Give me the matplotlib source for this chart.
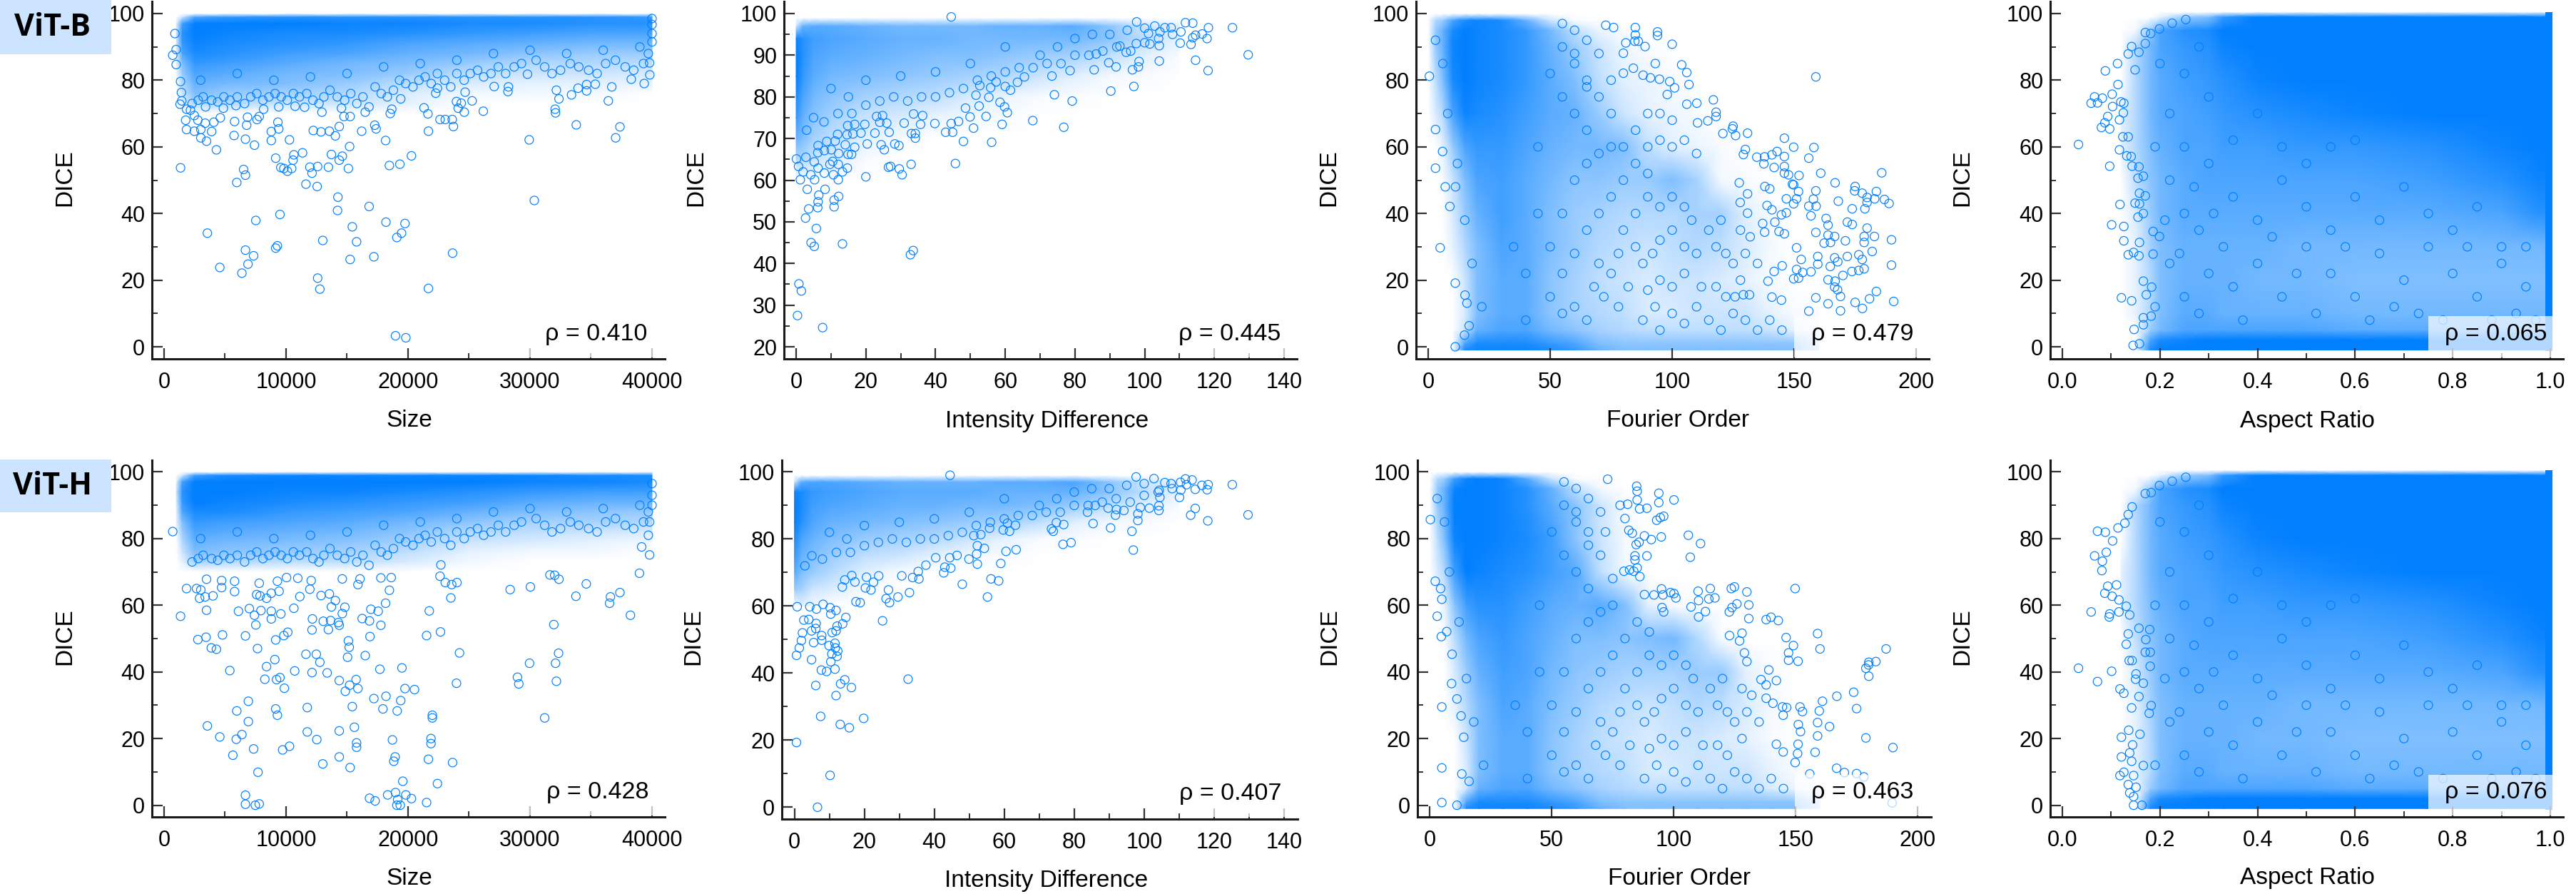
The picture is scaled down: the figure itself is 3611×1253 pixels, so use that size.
import matplotlib
matplotlib.use("Agg")
import matplotlib.pyplot as plt
from matplotlib.colors import LinearSegmentedColormap
from matplotlib.patches import Rectangle
from matplotlib.ticker import MultipleLocator, NullLocator

W, H = 3612, 1253
BLUE = "#007FFF"

labels_x = ["Size", "Intensity Difference", "Fourier Order", "Aspect Ratio"]
rho_b = ["ρ = 0.410", "ρ = 0.445", "ρ = 0.479", "ρ = 0.065"]
rho_h = ["ρ = 0.428", "ρ = 0.407", "ρ = 0.463", "ρ = 0.076"]

# ---- readable individual points (x, DICE) ----
b_size = [(1350,53.7),(3550,34.1),(4570,23.8),(6380,22.1),(6670,29),(6880,24.8),(7340,27.3),(7520,37.9),(9150,29.6),(9290,30.3),(9500,39.7),(12590,20.6),(12770,17.3),(13010,31.9),(14220,40.9),(14250,44.9),(15250,26.2),(15430,36),(15780,31.5),(16810,42.1),(17200,27),(18190,37.4),(19080,32.8),(19470,34.1),(19750,37),(18970,3.3),(19820,2.7),(21670,17.5),(23650,28.1),(30350,43.9),(29930,62.1),(33790,66.6),(37020,62.7),(37370,66),(5960,49.3),(6520,53.2),(6670,51.5),(9150,56.6),(9570,53.8),(9820,53.5),(10110,52.7),(10460,53.5),(10570,56),(10640,57.6),(11350,58.2),(11630,48.8),(11950,53.9),(12130,52.1),(12590,54.1),(12550,48.1),(13470,53.9),(13720,57.7),(14360,56),(14610,57.2),(15110,53.5),(15210,60.1),(18470,54.4),(19330,54.8),(20280,57.3),(4290,59.1),(7410,60.5),(5740,63.4),(6670,62.3),(3480,61.7),(8790,61.9),(8790,64.6),(9400,65.4),(10280,62.1),(12230,64.9),(12870,64.5),(13550,64.7),(14040,63.3),(14360,66.1),(16200,64.7),(17270,66.5),(17380,65.4),(18160,61.9),(21670,64.7),(22620,68.2),(23050,68.2),(23620,68.2),(23720,66.1),(21310,71.7),(21630,69.9),(24610,70.4),(26170,70.7),(25250,73.8),(23970,73.6),(24360,73.1),(24110,71.6),(32060,71.3),(32090,70.2),(32370,74.4),(33400,75.6),(36420,73.8),(24680,76.4),(22270,76.1),(22410,77.6),(27060,78.1),(28190,76.6),(28230,78),(32160,77),(33940,77.6),(34640,76.8),(34640,78.7),(35350,78.8),(36700,78),(39360,79),(38300,80.3),(39820,81.6),(29790,81.8),(19400,74.4),(18670,71.3),(18540,70),(16490,70.4),(15250,69.1),(14750,69.1),(14540,71.6),(12940,70.4),(11520,71.9),(10740,72.2),(9400,72),(9330,67.4),(6840,68.9),(6770,66.5),(4610,68.7),(5780,67.6),(4080,67.4),(3900,64.6),(3370,67.1),(3010,65.2),(3010,62.7),(2480,64.7),(1840,65.2),(1770,68),(2770,68),(2480,69.4),(7800,69.1),(7620,68.2),(710,87.5),(890,94),(990,84.7),(990,89.2),(1350,79.6),(1420,76.3),(1310,72.8),(1450,73.8),(1840,71.3),(2160,71),(3400,72),(4860,71.6),(5890,72.4),(8160,71.3),(40000,96.7),(40000,94),(40000,91.5),(40000,98.5),(39800,85.2)]

b_int = [(.4,27.5),(7.6,24.6),(.8,35.1),(1.5,33.4),(4.3,45),(5.2,44.1),(13.3,44.7),(5.8,48.4),(2.7,50.9),(3.6,53.1),(6.2,53.4),(6.3,54.8),(6.5,56.4),(8.3,57.8),(3.2,57.8),(10.9,53.6),(10.9,55.2),(12.2,56.1),(32.8,42.1),(33.6,43.1),(20,60.8),(30.4,61.3),(29.6,62.7),(33,63.8),(26.5,63.1),(27.1,63.3),(45.7,64),(1.2,60.1),(5.3,60.1),(4.2,61.3),(8.1,61.7),(10.7,61.3),(12.1,60.1),(13.3,62),(14.7,62.9),(12.1,63.8),(9.7,63.8),(10.5,64.5),(6.3,62.9),(5.2,64.4),(2,62),(.7,63.3),(.1,65.1),(2.8,65.5),(6.2,66.6),(12.2,66.4),(14.9,66.2),(16.8,67.9),(15.9,66.2),(8.1,67.1),(10.1,67.3),(20.4,68.7),(24.4,68.5),(25.3,67.3),(28.3,68.7),(29.5,68.3),(14.1,68.5),(6.3,68.3),(8.8,69.3),(11.2,69.4),(34.2,70.1),(33.1,71.2),(34.2,71.2),(26.7,71.5),(22.6,71.3),(18.6,71.3),(16.3,71.1),(14.6,70.9),(11.9,71),(48,69.3),(56.1,69.1),(50.9,72.5),(42.9,71.5),(44.9,71.5),(39.8,73.6),(44.5,73.6),(46.6,74.1),(49.9,75.2),(54.5,75.3),(59.1,73.4),(67.9,74.3),(76.8,72.7),(35.7,73.4),(31,73.7),(26,73.7),(24,73.9),(19.7,73.4),(16.8,73.4),(14.8,73.1),(36.3,75.5),(33.7,75.9),(24.8,75.5),(23.1,75.3),(60.6,76.2),(59.8,77.6),(58.5,78.7),(52.5,77.8),(48.6,77.3),(74.1,80.5),(79.2,79),(90.3,81.4),(96.9,82.5),(118.2,86.3),(129.7,90.1),(125.2,96.6),(118.3,96.6),(117.9,94),(114.6,88.8),(113.3,92.6),(113.8,94.2),(114.6,94.8),(116.5,95.1),(110.2,92.9),(104.2,92.3),(104.2,88.6),(101.5,92.7),(98.4,88.5),(98.2,87.2),(96.5,86.5),(91.8,87.2),(89.7,88.2),(85.5,86.5),(86.1,90.3),(73.4,85),(78.6,86.3),(65.5,84.8),(63.5,83.5),(61.5,81.6),(60,82.5),(55.8,82.2),(52.7,82.7),(55.3,79.9),(51.6,80.4),(57.4,83.6),(44.5,99.2),(111.7,97.8),(113.8,97.7),(107.6,96.6),(105.8,96.6),(102.9,97),(97.7,98),(101.1,95.2),(104.4,95.6),(110.4,95.6),(94.7,90.7),(92.9,92.2),(97.6,92.8)]

b_four = [(158.9,81),(72.8,96.5),(76,95.8),(84.9,95.8),(84.9,93.6),(84.7,91.7),(86.1,91.7),(81,91.2),(88.9,90.1),(94,94.5),(94,93.4),(100,90.8),(93.1,85),(103.9,84.6),(106,82.3),(106.9,78.7),(101,77.7),(99,79.6),(94.8,80.3),(91.1,80.7),(88.1,81.5),(84.1,83.6),(80,82.1),(80,88.1),(98,75.7),(110.1,73.1),(106,72.8),(116.9,74.1),(118,70.4),(118,69.1),(114.6,67.8),(110.4,67.2),(125,66.2),(124.7,65.4),(126,63.4),(120.8,64),(130.9,64.1),(146,62.6),(149.8,59.9),(158.1,59.8),(156,56.6),(130,59.2),(129.2,57.7),(134.7,56.9),(137.9,57),(143,58.6),(140.9,57.6),(146,57.1),(137.6,54.9),(141.8,53.8),(146,54.1),(146,52.1),(147.7,51.6),(152,51.4),(160.9,52.1),(185.9,52.2),(166.8,49.2),(149.3,48.8),(149.8,48.6),(151.8,46.6),(158.9,46.8),(175,48.1),(174.8,46.8),(177.9,46.1),(183.7,46.6),(179.9,44.8),(179.9,43.3),(179,41.4),(183,44.4),(187,44.2),(188.9,43),(168.1,43.7),(157.9,44.3),(156,42.2),(159,42.2),(173.8,41.4),(151,44.4),(149.8,42.9),(146.8,44.4),(146.8,40.2),(144.8,39.6),(140,47.4),(138,48.1),(130.9,45.9),(127.5,49.2),(127.9,43.3),(130.9,40.1),(138.9,42.4),(140.9,41.1),(142.1,37.4),(137.1,37),(137.9,34.4),(143.8,34.6),(146,33.9),(156.9,39.3),(163.1,38.5),(163.9,36.5),(171.8,37.4),(173.8,36.7),(179.9,35.6),(158.9,34.3),(163.9,33.5),(166.6,33.1),(162.3,31.1),(164.9,31.3),(171,31.8),(178.7,33.1),(178.7,31.3),(182.9,33.1),(189.9,32.1),(151,29.7),(182,28.6),(159.7,27.1),(152.9,26.2),(166.6,26.7),(167.9,25.5),(171.8,27.1),(176.5,27.6),(177.9,26.2),(159.7,24.8),(164.8,24.1),(189.9,24.5),(178.7,23.4),(176.5,22.9),(173.7,22.6),(170,21.4),(151,23.2),(153.5,22.3),(156.9,22.5),(151.8,20.6),(149.8,20.4),(163.9,20.1),(166.8,19.7),(166.6,17.9),(167.8,17.1),(169,15.1),(158.9,14.7),(163.9,12.9),(175,13.3),(180.9,14.4),(183.7,16.6),(190.8,13.6),(178,11.5),(169,10.8),(156,10.7),(139.3,19.7),(141.8,22.6),(145.1,24.3),(140.9,14.9),(144.8,14),(131.7,15.6),(129.2,15.6),(125.8,15),(.5,81.2),(3,65.2),(3,53.6),(5.9,58.6),(7,48),(11.2,48),(8.9,42.1),(4.9,29.7),(11.1,19.1),(15.1,15.5),(15.9,13.1),(14.9,3.5),(11.1,0),(16.8,6.3)]

b_asp = [(.033,60.7),(.097,54.2),(.088,82.8),(.059,73.1),(.066,75),(.072,73.2),(.082,74.6),(.102,75.8),(.103,72.1),(.08,65.8),(.087,67.2),(.093,69.1),(.097,65.4),(.113,85),(.114,78.7),(.117,68.1),(.12,73.5),(.126,73.1),(.125,70.2),(.117,59.1),(.118,42.7),(.101,36.6),(.126,36.1),(.126,31.8),(.158,31.3),(.135,27.6),(.146,28.3),(.157,27.3),(.121,14.7),(.142,13.8),(.147,5.2),(.145,.4),(.158,.9),(.166,6.6),(.166,8.7),(.182,9.2),(.172,15.6),(.166,19.7),(.183,17.9),(.186,27.8),(.186,34.6),(.199,33.1),(.155,38.9),(.166,40),(.149,43.1),(.158,42.9),(.158,46.1),(.17,45.3),(.155,50.6),(.166,51.2),(.143,54.2),(.157,54),(.132,57.3),(.141,57.1),(.124,63),(.135,63),(.142,90.1),(.135,87.9),(.17,94.3),(.181,94),(.199,95.4),(.225,97.1),(.253,98.2),(.149,83.1),(.157,88.4),(.17,91)]

h_size = [(6670,.3),(6670,3),(7480,0),(7800,.4),(7700,9.9),(16840,2.1),(17300,1.3),(18330,3.1),(18970,3.8),(19080,0),(19360,0),(19150,1.7),(19820,3.1),(20280,2),(21520,.8),(19570,7.2),(22410,6.5),(13010,12.4),(15250,11.3),(14360,14.5),(18830,13.2),(18940,14.5),(21670,13.8),(23650,12.8),(5640,15),(7340,16.9),(9720,16.6),(10280,17.7),(5920,19.8),(6380,21.2),(4570,20.5),(3550,23.8),(6910,25.1),(5960,28.3),(6910,31.2),(9150,28.9),(9290,27),(11740,29.3),(11740,22),(12520,19.7),(14360,22.3),(15600,23.4),(15780,18.7),(15780,17.4),(18720,19.6),(21880,20),(21880,18.5),(21990,27),(21990,26.2),(15430,29.6),(17940,28.9),(19110,28.3),(17200,32),(18190,32.7),(19400,31.4),(19750,35),(20530,34.7),(14860,34.2),(15210,36),(15890,35),(15740,37.7),(14360,37.4),(13370,39.7),(12130,39.8),(10710,40.3),(9860,35.1),(9500,38.3),(9220,37.7),(8260,37.8),(8400,41.6),(9080,43.7),(5390,40.4),(7660,47),(3870,47.2),(4290,46.8),(2770,49.7),(3440,50.4),(4790,51.1),(6670,50.8),(9150,49.6),(9820,50.9),(10140,51.9),(11630,45.3),(12480,45.3),(12770,42.9),(15040,44.4),(16490,44.9),(15110,49.3),(15180,47.4),(16880,50.6),(17690,40.8),(19500,41.2),(23970,36.6),(24220,45.7),(21520,50.9),(22660,52),(21740,58.3),(28970,38.4),(29080,36.4),(29960,42.6),(31200,26.2),(32090,42.6),(32160,37.2),(32340,45.6),(31950,54.2),(38230,57),(36520,60.6),(36590,62.5),(37370,63.8),(33760,62.7),(34610,66.4),(38970,69.6),(32370,67.8),(32020,69),(31630,69.1),(30030,65.5),(28370,64.7),(23510,62.2),(24010,66.8),(23580,66.2),(23050,66.8),(22620,68.7),(22690,72.1),(1350,56.7),(3480,58.5),(6100,58.2),(6990,59),(7410,57),(7940,58.4),(7520,54.1),(8790,58.2),(8790,55.9),(9570,57.4),(10640,59.1),(12160,55.9),(12130,52.6),(13050,55.2),(13650,55.4),(13470,52.7),(14360,54),(14290,54.8),(13720,59.5),(14820,59.4),(14610,57.5),(16240,56),(16840,55.3),(17770,54),(16950,58.8),(17550,58.2),(18160,60.6),(14040,61.4),(13550,63.4),(12870,62.9),(11130,62.6),(9430,64.2),(8790,63.6),(8400,62.1),(7870,62.8),(7590,63.2),(5780,64.1),(4720,65.3),(4010,62.8),(3370,62.5),(2910,62.1),(3010,64.6),(1840,65),(2660,65),(710,82.1),(11950,64.8),(18470,64.5),(5780,67.2),(4720,67.4),(3480,67.8),(7800,66.6),(9290,67.2),(10040,68.3),(10960,68.1),(12060,67.4),(14610,67.9),(16060,67.9),(15890,66.2),(18620,68.3),(17770,68.2),(40000,96.5),(40000,93),(40000,90),(39800,85),(39700,81),(39800,75.1),(39150,77.5)]

h_int = [(6.6,0),(10.2,9.5),(.6,19.3),(7.5,27.1),(13.1,24.7),(15.7,23.7),(19.8,26.5),(6.1,36.3),(11.9,33.3),(13.2,36.8),(14.4,38),(16.3,35.7),(32.5,38.2),(7.7,40.9),(9.2,40.5),(11.6,41.2),(10.4,43.4),(4.9,44),(.6,45.3),(12.2,45),(10.7,45.7),(12.4,46.6),(11.7,47.5),(9.9,48.2),(11.6,48.9),(1.4,47.5),(5.5,49.1),(7.8,49.8),(7.8,51.2),(2,49.7),(2.3,52),(4.9,52.6),(6.1,53.3),(10.8,52.1),(11.9,52.6),(12.2,54),(13.8,54.7),(14.7,56.6),(25.2,55.6),(6.2,54.8),(4.1,56),(2.7,55.8),(10.4,57.6),(11.9,58.7),(10.2,59.5),(8.2,60.5),(6.3,59.1),(4.4,59.8),(.8,59.8),(55.2,62.7),(17.6,61.3),(18.8,61),(27.2,61),(26.2,62.2),(29.6,62.7),(26.9,64.8),(32.9,64),(21.9,64.8),(20.3,65.4),(22.6,67.1),(17.3,67.2),(13.7,65.7),(14.4,67.8),(16.4,69.1),(20.6,68.6),(24.1,69),(30.7,69),(33.8,68.5),(35.6,68.1),(35.4,70.3),(42.7,69.9),(44.7,71.3),(48,66.5),(56.2,68.1),(58.4,67.5),(52.3,72.5),(43,71.6),(37.6,72.2),(59,72.7),(40.4,74.4),(44.4,74.4),(46.5,75.1),(49.9,74),(60.5,76.3),(63.4,76.8),(52.1,75.5),(54.3,77.2),(52.3,78),(76.8,78.4),(79.1,78.9),(96.9,76.7),(96.5,82.3),(90.4,83.3),(85.4,84.6),(74,82.3),(73.5,83),(77,84.3),(74.9,84.9),(61.5,82.3),(59.7,82.7),(63.2,84.1),(60.9,84.7),(55.8,83.2),(53.3,81.3),(51.3,81),(98.2,85.5),(98.2,87.5),(118.2,85.4),(113.3,87.1),(114.6,89.1),(129.7,87.2),(125.2,96.2),(118.3,96.2),(118,94.7),(116.5,96),(114.6,94.8),(113.7,97.6),(111.8,97.9),(112.1,96.2),(110.1,92.4),(110.5,94.6),(110.4,96.9),(107.7,96.5),(105.9,96.8),(102.8,98),(104.3,94.5),(104.5,92.4),(104.2,89.9),(104.2,88.5),(101.5,89.2),(98.9,89.4),(97.7,98.5),(94.2,88.5),(92.1,88.8),(89.7,89.2),(91.8,87.1),(83.8,88),(86,90),(44.5,99)]

h_four = [(72.9,97.8),(84.8,95.7),(85,94.2),(85,91.6),(86,88.9),(89,89.1),(93.9,93.6),(93.9,90.8),(100.1,91.6),(95.9,86.7),(94.5,86.3),(93,85.5),(81.1,90.3),(106,81),(111,78.5),(106.8,74.4),(94.9,80.5),(90.8,79.7),(88,80.8),(85.8,78.9),(84.6,78.2),(89,74.8),(84.1,74.8),(84.1,73.6),(85,71.2),(81.9,70.6),(79.6,70.2),(83.6,70.2),(86.1,68.6),(83,81.6),(81.6,82.5),(149.8,65),(124.9,65.5),(123.6,65),(130,64),(130.8,60.1),(125.9,60.4),(123.9,59.3),(122.8,58),(115,65),(110,64.2),(100.1,63.5),(100.9,62.2),(95,64.9),(95.6,63.1),(91.9,63.1),(88,63.2),(98.7,63.8),(110.2,61.4),(107.1,59.5),(114.4,61.9),(116.9,62.2),(113,58.1),(110.2,56.5),(95.2,59.3),(95.9,58),(130.8,56),(137.9,55.7),(139.9,56.4),(142.9,55.4),(159,51.5),(160,46.9),(122.9,50.9),(128,51.6),(127,49.3),(129,45.7),(130,43.1),(139,40.6),(146.1,50.3),(149.1,47.9),(147.1,45.7),(147.1,43.5),(151,43.2),(187.1,46.9),(182.9,43.1),(180,42.9),(179.9,42.1),(178.8,41.1),(180,38.7),(135.8,37.7),(137.9,36.1),(142.1,37.4),(173.8,33.9),(166.9,32.7),(161,31.2),(175,29),(159.7,28.3),(151.8,29.5),(152.8,28.1),(137.9,32.1),(140.7,30.6),(144.6,29.5),(146.3,29.3),(144.9,27),(151.1,24.2),(152,22.1),(159,24.8),(163.9,23.6),(159,20.8),(178.8,20.2),(189.9,17.3),(151,18.3),(150.8,15.5),(158,15.9),(144.9,16),(142.1,18.3),(149.8,12.8),(155.8,9.4),(166.8,11.1),(170,9.8),(175,9.5),(178,8.5),(189.6,.7),(.2,85.7),(3,56.7),(4.7,50.6),(4.9,29.5),(4.9,11.2),(4.9,.8),(8.9,36.5),(11.1,31.9),(12.8,26.8),(9.1,45.3),(13.1,9.4),(16.1,7.2),(13.9,20.4),(11.1,0),(6.9,52.1),(4.9,61.8),(2.2,67.2),(4.4,65)]

h_asp = [(.033,41.1),(.059,58),(.072,37.1),(.101,40.2),(.072,82.2),(.088,81.9),(.066,74.8),(.082,73.2),(.081,70.4),(.09,75.9),(.103,79.3),(.114,83.2),(.128,84.6),(.135,87.2),(.143,89.5),(.17,93.5),(.182,93.8),(.199,95.9),(.225,97.2),(.253,98.4),(.093,65.7),(.087,63.6),(.102,62.7),(.097,57.4),(.096,56.5),(.111,66.1),(.116,58),(.131,59.7),(.138,57.1),(.116,61.6),(.135,51.4),(.131,48.3),(.137,43.4),(.143,43.4),(.118,34.9),(.126,33.6),(.142,29.2),(.157,32.6),(.15,37.8),(.151,39.4),(.136,22.5),(.121,20.4),(.159,21.3),(.144,18.1),(.121,14.5),(.138,15.7),(.142,13.2),(.126,9.9),(.118,8.9),(.146,8.9),(.135,6.2),(.138,3.7),(.146,2.6),(.146,0),(.163,0),(.151,5.4),(.166,11.9),(.178,27.6),(.182,29.9),(.166,36.6),(.18,41.7),(.17,45.9),(.18,45.9),(.171,49.7),(.179,52.7),(.157,53.1)]

# ---- rings estimated along the fringe of each dense cloud ----
size_fringe = [(2300,73),(2800,74),(3200,75),(3900,74),(4400,73.5),(4900,75),(5400,74),(6000,75),(6600,73),(7100,75),(7600,76),(8100,74),(8600,75),(9100,76),(9600,75),(10100,74),(10600,76),(11100,75),(11700,76),(12200,74),(12700,73),(13100,75),(13600,77),(14200,75),(14800,74),(15300,76),(15800,73),(16300,75),(16800,72),(17300,78),(17800,76),(18300,75),(18800,77),(19300,80),(19800,79),(20400,78),(20900,80),(21400,81),(21900,79),(22400,82),(23000,80),(23500,78),(24000,82),(24600,80),(25100,82),(25700,83),(26200,81),(26800,82),(27400,84),(28000,82),(28700,84),(29300,85),(30500,86),(31200,84),(31800,82),(32500,83),(33300,85),(34000,84),(34800,83),(35500,82),(36200,85),(37000,86),(37800,84),(38500,83),(39300,85),(39700,88),(3000,80),(6000,82),(9000,80),(12000,81),(15000,82),(18000,84),(21000,85),(24000,86),(27000,88),(30000,89),(33000,88),(36000,89),(39000,90)]
int_fringe = [(3,72),(5,75),(8,74),(12,76),(16,76),(20,78),(24,79),(28,80),(32,79),(36,80),(40,80),(44,81),(48,82),(52,84),(56,85),(60,86),(64,87),(68,87),(72,88),(76,88),(80,90),(84,90),(88,91),(92,92),(96,91),(100,93),(104,94),(70,90),(75,92),(80,94),(85,95),(90,95),(95,96),(100,96.5),(108,95),(30,85),(40,86),(50,88),(60,92),(20,84),(10,82),(15,80)]
four_mid = [(100,35),(105,30),(110,28),(118,30),(122,28),(125,25),(130,28),(135,25),(128,35),(132,33),(120,38),(115,35),(108,38),(95,32),(92,28),(88,25),(85,30),(80,35),(78,28),(75,22),(70,25),(68,18),(72,15),(78,12),(82,18),(88,8),(93,12),(100,10),(95,5),(105,7),(110,12),(115,8),(120,5),(125,10),(130,8),(135,5),(140,8),(145,5),(118,18),(122,15),(128,20),(112,18),(105,22),(100,18),(95,20),(90,17),(85,40),(90,45),(95,42),(100,45),(105,42),(75,45),(70,40),(65,35),(60,28),(55,22),(60,12),(65,8),(55,10),(50,15),(50,30),(55,40),(60,50),(65,55),(70,58),(80,50),(85,55),(90,52),(75,60),(65,65),(60,70),(55,75),(50,82),(60,85),(65,78),(55,90),(45,60),(45,40),(40,22),(40,8),(35,30),(18,25),(22,12),(15,38),(12,55),(8,70),(6,85),(3,92)]
b_four_upper = [(85,65),(90,70),(95,70),(100,68),(90,60),(95,62),(100,60),(105,62),(110,58),(80,60),(75,70),(70,75),(75,80),(65,80),(70,88),(60,88),(65,92),(60,95),(55,97)]
h_four_upper = [(75,68),(70,75),(72,82),(65,82),(70,88),(60,88),(65,92),(60,95),(55,97),(80,86),(78,90)]
asp_mid = [(.2,85),(.22,70),(.25,60),(.22,50),(.25,40),(.28,35),(.22,25),(.25,15),(.28,10),(.3,22),(.33,30),(.35,18),(.4,25),(.45,15),(.5,30),(.55,22),(.6,15),(.65,28),(.7,20),(.75,30),(.8,22),(.85,15),(.9,25),(.95,18),(.35,45),(.4,38),(.45,50),(.5,42),(.55,35),(.6,45),(.65,38),(.7,48),(.75,40),(.8,35),(.85,42),(.9,30),(.95,30),(.3,55),(.35,62),(.4,70),(.45,60),(.5,55),(.55,60),(.6,62),(.3,75),(.25,82),(.28,90),(.19,60),(.21,38),(.19,12),(.24,28),(.27,48),(.31,40),(.37,8),(.43,33),(.48,22),(.52,10),(.58,30),(.63,8),(.68,12),(.73,10),(.78,8),(.83,30),(.88,8),(.93,10),(.97,8)]

# ---- blue tone of the unresolvably dense clouds: columns x, rows DICE ----
size_cols = [1000,1500,2500,5000,10000,15000,20000,25000,30000,35000,40000]
size_rows = [70,73,76,79,82,85,88,91,94,97,99,100]
b_size_tone = [
 [0,0,0,0,0,0,0,0,0,0,0],
 [0,.1,.3,.3,.2,.2,.1,0,0,0,0],
 [0,.2,.5,.4,.35,.3,.15,.05,.05,.05,0],
 [0,.3,.6,.55,.5,.4,.25,.15,.1,.1,.1],
 [.05,.4,.7,.65,.55,.5,.4,.25,.2,.2,.15],
 [.1,.5,.8,.75,.65,.55,.5,.4,.3,.3,.25],
 [.1,.7,.9,.85,.75,.7,.6,.55,.45,.4,.4],
 [.15,.8,.95,.9,.85,.8,.7,.65,.6,.55,.55],
 [.2,.85,1,.95,.9,.9,.85,.8,.75,.7,.7],
 [.1,.75,1,1,1,.95,.95,.9,.9,.85,.85],
 [0,.2,.7,.8,.85,.85,.85,.85,.85,.85,.8],
 [0,0,0,0,0,0,0,0,0,0,0]]
h_size_tone = [
 [0,0,0,0,0,0,0,0,0,0,0],
 [0,.1,.35,.3,.25,.25,.15,.05,0,0,0],
 [0,.2,.5,.45,.4,.35,.25,.1,.05,.05,0],
 [0,.3,.6,.55,.5,.45,.35,.2,.15,.1,.05],
 [.05,.4,.7,.65,.6,.55,.45,.3,.25,.2,.15],
 [.1,.5,.8,.75,.7,.65,.55,.45,.35,.35,.3],
 [.1,.7,.9,.9,.8,.75,.7,.6,.5,.45,.4],
 [.15,.8,1,.95,.9,.85,.8,.75,.65,.6,.6],
 [.2,.85,1,1,.95,.95,.9,.85,.8,.75,.75],
 [.1,.75,1,1,1,1,1,1,.95,.95,.9],
 [0,.2,.75,.9,.95,.95,.95,.95,.95,.9,.9],
 [0,0,0,0,0,0,0,0,0,0,0]]

int_cols = [0,2,5,10,20,30,40,50,60,70,80,90,100,110]
int_rows = [60,65,70,75,80,85,90,94,97,99]
b_int_tone = [
 [0,0,0,0,0,0,0,0,0,0,0,0,0,0],
 [.3,.3,.2,.15,.03,0,0,0,0,0,0,0,0,0],
 [.6,.5,.35,.25,.1,.03,0,0,0,0,0,0,0,0],
 [.8,.6,.45,.35,.2,.15,.08,.05,.02,0,0,0,0,0],
 [.9,.7,.55,.45,.35,.3,.25,.15,.08,.03,.02,0,0,0],
 [1,.8,.65,.55,.5,.45,.4,.35,.3,.2,.12,.05,.03,0],
 [1,.85,.7,.65,.6,.55,.5,.5,.45,.4,.35,.25,.12,.03],
 [.95,.85,.75,.7,.65,.6,.6,.55,.55,.55,.55,.45,.25,.1],
 [.2,.6,.65,.65,.6,.55,.55,.55,.6,.6,.65,.45,.2,.1],
 [0,0,0,0,0,0,0,0,0,0,0,0,0,0]]
h_int_tone = [
 [0,.1,.05,0,0,0,0,0,0,0,0,0,0,0],
 [.4,.35,.2,.15,.03,0,0,0,0,0,0,0,0,0],
 [.65,.5,.4,.3,.12,.03,0,0,0,0,0,0,0,0],
 [.8,.6,.5,.4,.25,.2,.1,.05,.02,0,0,0,0,0],
 [.9,.7,.6,.5,.4,.35,.3,.2,.1,.03,.02,0,0,0],
 [1,.85,.7,.6,.55,.5,.45,.4,.35,.25,.12,.05,.03,0],
 [1,.9,.75,.7,.65,.6,.6,.55,.55,.5,.4,.25,.12,.03],
 [.95,.9,.8,.75,.7,.65,.65,.65,.6,.6,.6,.45,.25,.1],
 [.2,.65,.7,.7,.65,.6,.6,.6,.65,.65,.7,.45,.2,.1],
 [0,0,0,0,0,0,0,0,0,0,0,0,0,0]]

four_cols = [0,3,6,10,15,20,30,40,50,60,70,80,90,100,110,120,130,140,150,160]
four_rows = [-1,1,5,10,20,30,40,50,60,70,80,90,95,98,100]
b_four_tone = [
 [0,0,0,0,.9,.95,.95,.95,.9,.8,.6,.5,.5,.5,.5,.5,.5,.5,.5,.2],
 [0,0,0,0,.7,.9,.9,.9,.8,.7,.5,.45,.45,.45,.45,.45,.45,.45,.45,.2],
 [0,0,0,0,.2,.6,.7,.7,.55,.45,.35,.3,.25,.25,.25,.25,.25,.2,.1,.05],
 [0,0,0,0,.15,.5,.65,.65,.45,.35,.3,.25,.15,.15,.2,.2,.2,.1,.03,.02],
 [0,0,0,0,.2,.5,.65,.65,.45,.35,.25,.2,.15,.2,.2,.15,.1,.03,0,0],
 [0,0,0,.1,.3,.5,.7,.65,.5,.4,.3,.25,.2,.25,.3,.25,.15,.05,0,0],
 [0,0,0,.15,.4,.6,.75,.65,.5,.4,.35,.3,.3,.3,.35,.35,.12,.03,0,0],
 [0,0,.03,.2,.5,.7,.75,.65,.55,.45,.45,.4,.4,.5,.35,.05,.03,0,0,0],
 [0,0,.1,.4,.7,.8,.8,.7,.6,.55,.55,.5,.25,.12,.08,.03,0,0,0,0],
 [0,.15,.3,.7,.95,.9,.85,.75,.65,.6,.4,.2,.1,.07,.03,0,0,0,0,0],
 [0,.25,.5,.9,1,.95,.9,.8,.65,.5,.25,.12,.08,.03,0,0,0,0,0,0],
 [0,.4,.6,.95,1,.95,.9,.8,.6,.4,.2,.06,.02,0,0,0,0,0,0,0],
 [0,.4,.6,.9,1,.95,.9,.8,.55,.25,.08,.02,0,0,0,0,0,0,0,0],
 [0,.3,.4,.7,.9,.95,.9,.6,.2,.03,0,0,0,0,0,0,0,0,0,0],
 [0,0,0,0,0,0,0,0,0,0,0,0,0,0,0,0,0,0,0,0]]
h_four_tone = [
 [0,0,0,0,.9,.95,.95,.95,.9,.8,.6,.5,.5,.5,.5,.5,.5,.5,.5,.2],
 [0,0,0,0,.7,.9,.9,.9,.8,.7,.5,.45,.45,.45,.45,.45,.45,.45,.45,.2],
 [0,0,0,0,.2,.6,.7,.7,.55,.45,.35,.3,.25,.25,.25,.25,.25,.15,.08,.03],
 [0,0,0,0,.15,.5,.65,.65,.45,.35,.3,.25,.15,.15,.2,.2,.2,.1,.03,0],
 [0,0,0,0,.2,.5,.65,.65,.45,.35,.25,.2,.15,.2,.2,.15,.1,.03,0,0],
 [0,0,0,.1,.3,.5,.7,.65,.5,.4,.3,.25,.2,.25,.3,.25,.15,.05,0,0],
 [0,0,0,.15,.4,.6,.75,.7,.55,.45,.4,.35,.35,.35,.4,.4,.1,.02,0,0],
 [0,0,.03,.25,.55,.7,.8,.7,.6,.5,.5,.45,.5,.55,.3,.02,0,0,0,0],
 [0,0,.1,.45,.75,.85,.85,.75,.65,.6,.65,.5,.1,.03,0,0,0,0,0,0],
 [0,.15,.3,.75,1,.95,.9,.85,.75,.65,.25,.05,0,0,0,0,0,0,0,0],
 [0,.25,.5,.95,1,1,.95,.9,.75,.45,.2,.05,0,0,0,0,0,0,0,0],
 [0,.4,.6,1,1,1,.95,.85,.65,.45,.2,.03,0,0,0,0,0,0,0,0],
 [0,.4,.6,.95,1,1,.95,.85,.6,.25,.05,.01,0,0,0,0,0,0,0,0],
 [0,.3,.4,.75,.95,1,.95,.65,.2,.02,0,0,0,0,0,0,0,0,0,0],
 [0,0,0,0,0,0,0,0,0,0,0,0,0,0,0,0,0,0,0,0]]

asp_cols = [.12,.15,.18,.2,.25,.3,.33,.4,.49,.6,.75,.9,.98,1.0]
asp_rows = [-1,2,5,10,20,30,40,50,60,70,80,90,95,99,100.5]
asp_tone = [
 [0,0,.9,1,1,1,1,1,1,1,1,1,1,1],
 [0,0,.7,.9,.95,1,1,1,1,1,1,1,1,1],
 [0,0,.4,.55,.7,.7,.7,.7,.7,.65,.65,.65,.65,.65],
 [0,.1,.3,.5,.65,.65,.6,.6,.6,.55,.55,.55,.55,.55],
 [0,.1,.3,.5,.6,.6,.6,.55,.55,.5,.5,.5,.5,.5],
 [0,.1,.35,.5,.6,.6,.6,.6,.55,.55,.55,.55,.55,.6],
 [0,.15,.4,.55,.65,.65,.65,.65,.65,.65,.65,.7,.85,.85],
 [0,.25,.45,.55,.65,.7,.7,.7,.7,.7,.75,.85,.95,.95],
 [.1,.3,.5,.6,.7,.7,.75,.75,.8,.8,.85,.95,1,1],
 [.1,.3,.55,.65,.7,.75,.8,.85,.9,.95,1,1,1,1],
 [0,.3,.55,.65,.75,.8,.85,.95,1,1,1,1,1,1],
 [0,.3,.55,.7,.8,.85,.95,1,1,1,1,1,1,1],
 [0,.05,.4,.7,.85,.9,1,1,1,1,1,1,1,1],
 [0,0,0,.1,.4,.5,.8,1,1,1,1,1,1,1],
 [0,0,0,0,0,0,0,0,0,0,0,0,0,0]]
asp_edge_x = [.99, 1.004]
asp_edge_lo = [-1.3, -1.3]
asp_edge_hi = [100.5, 100.5]

top_y = dict(bot=503, top=2, y0px=486, y1px=19, v0=0, v1=100)
bot_y = dict(bot=1145, top=645, y0px=1128.6, y1px=661.4, v0=0, v1=100)

panels = [
 dict(pts=b_size+size_fringe, tone=(size_cols,size_rows,b_size_tone), rho=rho_b[0], lab=labels_x[0], L=213, R=932, x0=230, x1=914, xv=(0,40000), xmaj=10000, xmin=5000, ya=top_y, ymaj=20, ymin=10, ylx=91, yly=249, xly=590, xlx=574, rhox=836, rhoy=468, box=(742,916,443,501)),
 dict(pts=b_int+int_fringe, tone=(int_cols,int_rows,b_int_tone), rho=rho_b[1], lab=labels_x[1], L=1099, R=1818, x0=1116, x1=1800, xv=(0,140), xmaj=20, xmin=10, ya=dict(bot=503, top=2, y0px=486, y1px=19, v0=20, v1=100), ymaj=10, ymin=5, ylx=976, yly=249, xly=590, xlx=1468, rhox=1724, rhoy=468, box=(1654,1818,443,501)),
 dict(pts=b_four+four_mid+b_four_upper, tone=(four_cols,four_rows,b_four_tone), rho=rho_b[2], lab=labels_x[2], L=1985, R=2704, x0=2002, x1=2686, xv=(0,200), xmaj=50, xmin=None, ya=top_y, ymaj=20, ymin=10, ylx=1863, yly=249, xly=590, xlx=2352, rhox=2611, rhoy=468, box=(2515,2690,443,501)),
 dict(pts=b_asp+asp_mid, tone=(asp_cols,asp_rows,asp_tone), edge=True, rho=rho_b[3], lab=labels_x[3], L=2874, R=3593, x0=2891, x1=3575, xv=(0,1), xmaj=.2, xmin=.1, ya=top_y, ymaj=20, ymin=10, ylx=2751, yly=249, xly=590, xlx=3234, rhox=3499, rhoy=468, box=(3404,3581,443,501)),
 dict(pts=h_size+size_fringe, tone=(size_cols,size_rows,h_size_tone), rho=rho_h[0], lab=labels_x[0], L=213, R=932, x0=230, x1=914, xv=(0,40000), xmaj=10000, xmin=5000, ya=bot_y, ymaj=20, ymin=10, ylx=91, yly=892, xly=1231, xlx=574, rhox=838, rhoy=1111, box=(742,916,1086,1143)),
 dict(pts=h_int+int_fringe, tone=(int_cols,int_rows,h_int_tone), rho=rho_h[1], lab=labels_x[1], L=1096, R=1819, x0=1113.6, x1=1800, xv=(0,140), xmaj=20, xmin=10, ya=dict(bot=1147.7, top=645, y0px=1131.4, y1px=661.4, v0=0, v1=100), ymaj=20, ymin=10, ylx=972, yly=892, xly=1235, xlx=1467, rhox=1725, rhoy=1113, box=(1654,1819,1086,1145)),
 dict(pts=h_four+four_mid+h_four_upper, tone=(four_cols,four_rows,h_four_tone), rho=rho_h[2], lab=labels_x[2], L=1987, R=2706.5, x0=2004.4, x1=2688, xv=(0,200), xmaj=50, xmin=None, ya=bot_y, ymaj=20, ymin=10, ylx=1864, yly=892, xly=1231, xlx=2354, rhox=2611, rhoy=1111, box=(2516,2692,1086,1143)),
 dict(pts=h_asp+asp_mid, tone=(asp_cols,asp_rows,asp_tone), edge=True, rho=rho_h[3], lab=labels_x[3], L=2874, R=3593, x0=2891, x1=3575, xv=(0,1), xmaj=.2, xmin=.1, ya=bot_y, ymaj=20, ymin=10, ylx=2751, yly=892, xly=1231, xlx=3234, rhox=3499, rhoy=1110, box=(3404,3581,1086,1143)),
]

plt.rcParams["font.family"] = ["Liberation Sans", "DejaVu Sans"]
fig = plt.figure(figsize=(W / 100, H / 100), dpi=100)
fx = lambda p: p / W
fy = lambda p: 1 - p / H
SPINE = "#1a1a1a"
tone_cmap = LinearSegmentedColormap.from_list("tone", ["#FFFFFF", BLUE])

for p in panels:
    ya = p["ya"]
    ax = fig.add_axes([fx(p["L"]), fy(ya["bot"]), (p["R"] - p["L"]) / W, (ya["bot"] - ya["top"]) / H])
    sx = (p["xv"][1] - p["xv"][0]) / (p["x1"] - p["x0"])
    ax.set_xlim(p["xv"][0] + (p["L"] - p["x0"]) * sx, p["xv"][0] + (p["R"] - p["x0"]) * sx)
    sy = (ya["v1"] - ya["v0"]) / (ya["y0px"] - ya["y1px"])
    ax.set_ylim(ya["v0"] - (ya["bot"] - ya["y0px"]) * sy, ya["v0"] + (ya["y0px"] - ya["top"]) * sy)
    cols, rows, tone = p["tone"]
    ax.pcolormesh(cols, rows, tone, shading="gouraud", cmap=tone_cmap, vmin=0, vmax=1, zorder=1.2)
    if p.get("edge"):
        ax.fill_between(asp_edge_x, asp_edge_lo, asp_edge_hi, color=BLUE, linewidth=0, zorder=1.3)
    xs = [q[0] for q in p["pts"]]
    ys = [q[1] for q in p["pts"]]
    ax.scatter(xs, ys, s=75, facecolors="none", edgecolors=BLUE, linewidths=0.85, zorder=2, clip_on=False)
    for s in ("top", "right"):
        ax.spines[s].set_visible(False)
    for s in ("left", "bottom"):
        ax.spines[s].set_linewidth(2.2)
        ax.spines[s].set_color(SPINE)
        ax.spines[s].set_zorder(8)
    ax.xaxis.set_major_locator(MultipleLocator(p["xmaj"]))
    ax.xaxis.set_minor_locator(MultipleLocator(p["xmin"]) if p["xmin"] else NullLocator())
    ax.yaxis.set_major_locator(MultipleLocator(p["ymaj"]))
    ax.yaxis.set_minor_locator(MultipleLocator(p["ymin"]))
    ax.tick_params(which="major", direction="in", length=11, width=1.6, color="#333333", labelsize=22)
    ax.tick_params(which="minor", direction="in", length=6, width=1.4, color="#333333")
    ax.tick_params(axis="x", which="major", pad=13)
    ax.tick_params(axis="y", which="major", pad=7)
    if p["xv"][1] == 1:
        ax.set_xticks([0, .2, .4, .6, .8, 1.0])
        ax.set_xticklabels(["0.0", "0.2", "0.4", "0.6", "0.8", "1.0"])
    ax.set_xlabel(p["lab"], fontsize=24, va="center", ha="center")
    ax.xaxis.set_label_coords(fx(p["xlx"]), fy(p["xly"]), transform=fig.transFigure)
    ax.set_ylabel("DICE", fontsize=24, va="center", ha="center")
    ax.yaxis.set_label_coords(fx(p["ylx"]), fy(p["yly"]), transform=fig.transFigure)
    x0b, x1b, y0b, y1b = p["box"]
    fig.add_artist(Rectangle((fx(x0b), fy(y1b)), (x1b - x0b) / W, (y1b - y0b) / H, transform=fig.transFigure,
                             facecolor="white", alpha=0.7, edgecolor="none", zorder=5))
    fig.text(fx(p["rhox"]), fy(p["rhoy"]), p["rho"], fontsize=24.5, ha="center", va="center", color="black", zorder=6)

for label, y0, y1 in (("ViT-B", 0, 76), ("ViT-H", 644, 718)):
    fig.add_artist(Rectangle((0, fy(y1)), 156 / W, (y1 - y0) / H, transform=fig.transFigure,
                             facecolor="#CCE4FF", edgecolor="none", zorder=5))
    fig.text(fx(74), fy((y0 + y1) / 2 + 1), label, fontsize=31, fontweight="bold", family="Open Sans",
             ha="center", va="center", color="black", zorder=6)

fig.savefig("out.png", dpi=100)
